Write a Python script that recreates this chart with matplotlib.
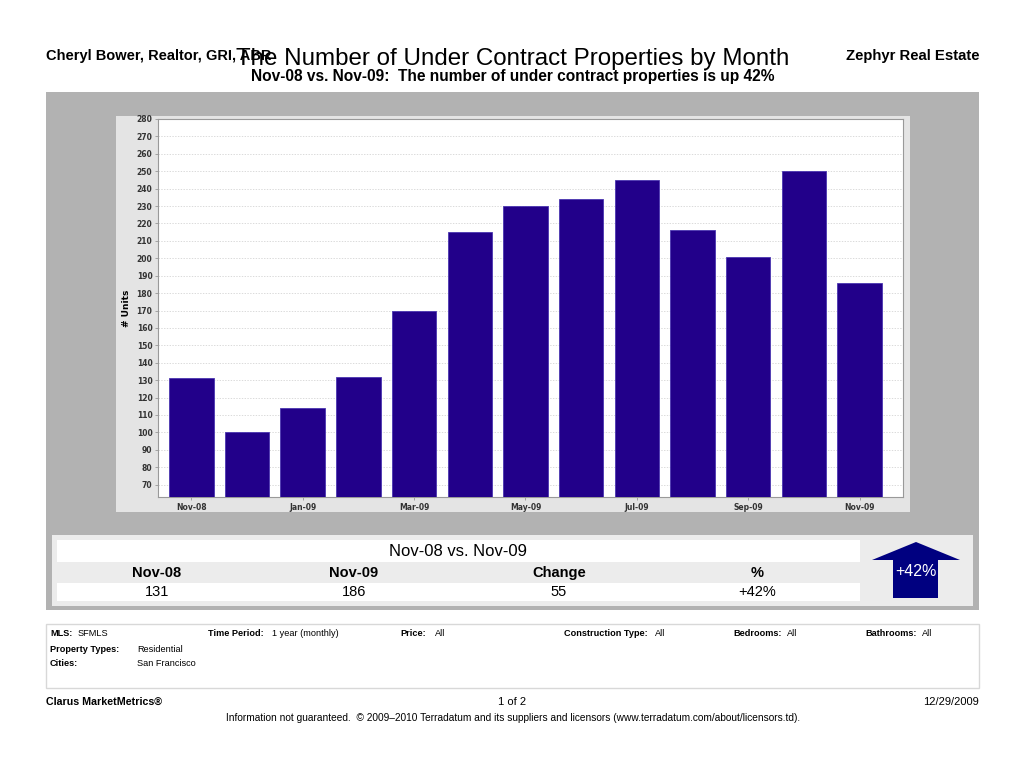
import matplotlib
matplotlib.use("Agg")
import matplotlib.pyplot as plt
from matplotlib.patches import Rectangle, Polygon

months = ["Nov-08", "Dec-08", "Jan-09", "Feb-09", "Mar-09", "Apr-09", "May-09",
          "Jun-09", "Jul-09", "Aug-09", "Sep-09", "Oct-09", "Nov-09"]
units = [131, 100, 114, 132, 170, 215, 230, 234, 245, 216, 201, 250, 186]
yticks = list(range(70, 281, 10))
table_headers = ["Nov-08", "Nov-09", "Change", "%"]
table_values = ["131", "186", "55", "+42%"]

FONT = ["Liberation Sans", "DejaVu Sans"]
plt.rcParams['font.family'] = FONT

W, H = 1024, 776
fig = plt.figure(figsize=(W / 100, H / 100), dpi=100)
fig.patch.set_facecolor("white")

bg = fig.add_axes([0, 0, 1, 1])
bg.set_xlim(0, W)
bg.set_ylim(H, 0)
bg.axis("off")

def rect(x0, y0, x1, y1, fc, ec="none", lw=0, z=0):
    bg.add_patch(Rectangle((x0, y0), x1 - x0, y1 - y0, facecolor=fc,
                           edgecolor=ec, linewidth=lw, zorder=z))

# outer gray panel
rect(46, 92, 979, 610, "#b2b2b2", z=0)
# chart inner panel
rect(116, 116, 910, 512, "#e4e4e4", z=1)
# table panel
rect(52, 535, 973, 606, "#ececec", z=1)
rect(57, 540, 860, 562, "white", z=2)
rect(57, 583, 860, 601, "white", z=2)
# arrow
bg.add_patch(Polygon([(893, 598), (893, 560), (872, 560), (916, 542),
                      (960, 560), (938, 560), (938, 598)],
                     closed=True, facecolor="#000080", edgecolor="none", zorder=3))
bg.text(916, 572, "+42%", color="white", fontsize=11.5, ha="center", va="center", zorder=4)

# table texts
bg.text(458, 551, "Nov-08 vs. Nov-09", fontsize=12, ha="center", va="center", zorder=4)
col_x = [157, 354, 559, 757]
for cx, h, v in zip(col_x, table_headers, table_values):
    bg.text(cx, 573, h, fontsize=10.5, fontweight="bold", ha="center", va="center", zorder=4)
    bg.text(cx, 592, v, fontsize=10.5, ha="center", va="center", zorder=4)

# info box
rect(46, 624, 979, 688, "white", ec="#d8d8d8", lw=1, z=1)
info = [
    (50, 634, "MLS:", True), (78, 634, "SFMLS", False),
    (208, 634, "Time Period:", True), (272, 634, "1 year (monthly)", False),
    (400, 634, "Price:", True), (435, 634, "All", False),
    (564, 634, "Construction Type:", True), (655, 634, "All", False),
    (733, 634, "Bedrooms:", True), (787, 634, "All", False),
    (865, 634, "Bathrooms:", True), (922, 634, "All", False),
    (50, 649, "Property Types:", True), (137, 649, "Residential", False),
    (50, 663, "Cities:", True), (137, 663, "San Francisco", False),
]
for x, y, s, b in info:
    bg.text(x, y, s, fontsize=6.6, fontweight="bold" if b else "normal",
            ha="left", va="center", zorder=4)

# footer
bg.text(46, 702, "Clarus MarketMetrics®", fontsize=7.7, fontweight="bold", ha="left", va="center")
bg.text(512, 702, "1 of 2", fontsize=8, ha="center", va="center")
bg.text(979, 702, "12/29/2009", fontsize=8, ha="right", va="center")
bg.text(513, 718, "Information not guaranteed.  © 2009–2010 Terradatum and its suppliers and licensors (www.terradatum.com/about/licensors.td).",
        fontsize=7.3, ha="center", va="center")

# header
bg.text(46, 56, "Cheryl Bower, Realtor, GRI, ABR", fontsize=10.5, fontweight="bold", ha="left", va="center")
bg.text(979, 56, "Zephyr Real Estate", fontsize=10.7, fontweight="bold", ha="right", va="center")
bg.text(513, 59, "The Number of Under Contract Properties by Month", fontsize=17.4,
        ha="center", va="center")
bg.text(513, 77, "Nov-08 vs. Nov-09:  The number of under contract properties is up 42%",
        fontsize=11.2, fontweight="bold", ha="center", va="center")

# bar chart axes
L, R, T, B = 158, 903, 119, 497
ax = fig.add_axes([L / W, (H - B) / H, (R - L) / W, (B - T) / H])
ax.set_facecolor("white")
x = list(range(len(months)))
ax.bar(x, units, width=0.8, color="#22008a", edgecolor="#4a35b0", linewidth=0.6, zorder=3)
ax.set_ylim(62.9, 280)
ax.set_xlim(-0.6, 12.78)
ax.set_yticks(yticks)
ax.set_yticklabels([str(t) for t in yticks], fontsize=5.5, color="#333333",
                   fontweight="bold", family=["DejaVu Sans"])
ax.set_xticks(x[::2])
ax.set_xticklabels(months[::2], fontsize=5.5, color="#333333", fontweight="bold",
                   family=["DejaVu Sans"])
ax.grid(axis="y", color="#cccccc", linestyle=(0, (2, 2)), linewidth=0.5, zorder=0)
ax.tick_params(axis="both", length=2, width=0.5, color="#888888", pad=2)
for s in ax.spines.values():
    s.set_color("#999999")
    s.set_linewidth(0.8)
ax.set_ylabel("# Units", fontsize=6.5, fontweight="bold", labelpad=4, family=["DejaVu Sans"])

fig.savefig("out.png", dpi=100, facecolor="white")
